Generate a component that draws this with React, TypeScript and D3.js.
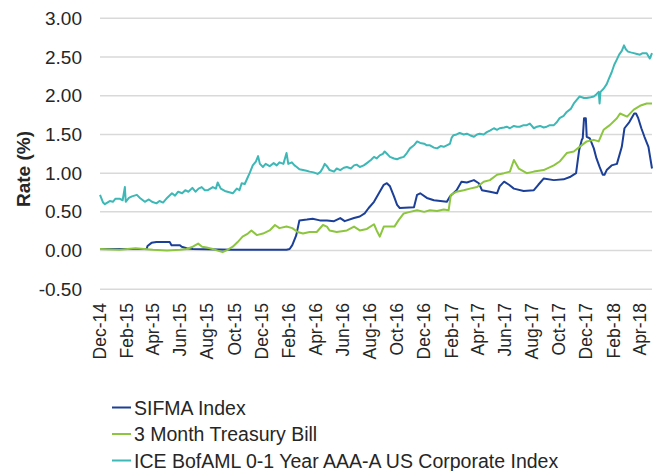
import React from "react";
import * as d3 from "d3";

const xTickLabels = ["Dec-14","Feb-15","Apr-15","Jun-15","Aug-15","Oct-15","Dec-15","Feb-16","Apr-16","Jun-16","Aug-16","Oct-16","Dec-16","Feb-17","Apr-17","Jun-17","Aug-17","Oct-17","Dec-17","Feb-18","Apr-18"];
const xTickDates = ["2014-12-01","2015-02-01","2015-04-01","2015-06-01","2015-08-01","2015-10-01","2015-12-01","2016-02-01","2016-04-01","2016-06-01","2016-08-01","2016-10-01","2016-12-01","2017-02-01","2017-04-01","2017-06-01","2017-08-01","2017-10-01","2017-12-01","2018-02-01","2018-04-01"];
const yTicks = [-0.5, 0, 0.5, 1, 1.5, 2, 2.5, 3];

const sifmaDates = ["2014-12-01","2015-03-16","2015-03-18","2015-03-27","2015-04-07","2015-05-07","2015-05-11","2015-05-30","2015-06-03","2015-06-14","2015-06-28","2015-09-26","2016-01-25","2016-02-01","2016-02-07","2016-02-16","2016-02-23","2016-03-11","2016-03-24","2016-04-09","2016-04-25","2016-05-11","2016-05-25","2016-06-04","2016-06-25","2016-07-08","2016-07-19","2016-07-28","2016-08-09","2016-08-20","2016-08-31","2016-09-07","2016-09-14","2016-09-23","2016-09-30","2016-10-06","2016-11-07","2016-11-14","2016-11-21","2016-12-06","2016-12-22","2017-01-20","2017-01-27","2017-02-11","2017-02-22","2017-03-06","2017-03-22","2017-04-02","2017-04-09","2017-04-27","2017-05-13","2017-05-19","2017-05-29","2017-06-09","2017-06-20","2017-07-12","2017-08-04","2017-08-14","2017-08-26","2017-09-18","2017-10-10","2017-10-24","2017-11-07","2017-11-14","2017-11-20","2017-11-22","2017-11-25","2017-11-29","2017-12-01","2017-12-08","2017-12-17","2017-12-23","2017-12-30","2018-01-06","2018-01-10","2018-01-15","2018-01-26","2018-02-07","2018-02-18","2018-02-24","2018-03-07","2018-03-18","2018-03-22","2018-03-27","2018-04-03","2018-04-10","2018-04-19","2018-04-27"];
const sifmaValues = [0.02,0.02,0.06,0.10,0.11,0.11,0.07,0.07,0.05,0.03,0.02,0.01,0.01,0.02,0.07,0.20,0.39,0.40,0.41,0.39,0.39,0.38,0.42,0.38,0.42,0.44,0.48,0.55,0.63,0.74,0.85,0.87,0.83,0.70,0.59,0.55,0.56,0.72,0.74,0.68,0.65,0.63,0.70,0.78,0.89,0.88,0.91,0.87,0.78,0.76,0.74,0.83,0.89,0.85,0.80,0.77,0.78,0.85,0.93,0.91,0.92,0.95,1.00,1.30,1.43,1.45,1.71,1.71,1.47,1.45,1.32,1.19,1.08,0.98,0.98,1.04,1.10,1.12,1.34,1.58,1.66,1.77,1.77,1.71,1.58,1.47,1.34,1.06];

const tbillDates = ["2014-12-01","2015-01-14","2015-02-19","2015-03-30","2015-05-01","2015-05-30","2015-06-14","2015-06-28","2015-07-10","2015-07-19","2015-07-29","2015-08-12","2015-08-23","2015-09-03","2015-09-14","2015-09-26","2015-10-07","2015-10-18","2015-10-30","2015-11-07","2015-11-19","2015-12-03","2015-12-18","2015-12-30","2016-01-09","2016-01-25","2016-02-07","2016-02-19","2016-03-02","2016-03-17","2016-04-02","2016-04-16","2016-04-25","2016-05-01","2016-05-17","2016-06-09","2016-06-25","2016-07-08","2016-07-24","2016-08-09","2016-08-15","2016-08-22","2016-08-31","2016-09-24","2016-10-03","2016-10-15","2016-10-29","2016-11-14","2016-11-30","2016-12-13","2016-12-29","2017-01-13","2017-01-24","2017-01-29","2017-02-11","2017-02-27","2017-03-13","2017-03-29","2017-04-13","2017-04-27","2017-05-13","2017-05-29","2017-06-11","2017-06-20","2017-07-01","2017-07-19","2017-08-04","2017-08-26","2017-09-18","2017-10-01","2017-10-17","2017-11-02","2017-11-15","2017-12-01","2017-12-17","2017-12-28","2018-01-08","2018-01-22","2018-02-07","2018-02-14","2018-03-02","2018-03-17","2018-03-31","2018-04-15","2018-04-27"];
const tbillValues = [0.02,0.01,0.03,0.01,0.00,0.01,0.02,0.05,0.09,0.05,0.04,0.02,0.00,-0.02,0.01,0.05,0.11,0.18,0.22,0.26,0.20,0.22,0.26,0.33,0.29,0.31,0.29,0.24,0.22,0.24,0.24,0.33,0.31,0.26,0.24,0.26,0.31,0.26,0.28,0.34,0.26,0.18,0.31,0.31,0.39,0.48,0.50,0.52,0.50,0.52,0.51,0.53,0.52,0.72,0.76,0.78,0.80,0.82,0.89,0.91,0.98,1.00,1.02,1.17,1.06,1.00,1.02,1.04,1.10,1.15,1.26,1.28,1.34,1.41,1.43,1.41,1.56,1.62,1.71,1.77,1.73,1.82,1.87,1.90,1.90];

const iceDates = ["2014-12-01","2014-12-08","2014-12-12","2014-12-23","2014-12-30","2015-01-05","2015-01-14","2015-01-21","2015-01-26","2015-01-28","2015-02-04","2015-02-11","2015-02-22","2015-03-01","2015-03-12","2015-03-21","2015-03-28","2015-04-07","2015-04-14","2015-04-22","2015-05-01","2015-05-12","2015-05-19","2015-05-26","2015-06-04","2015-06-11","2015-06-18","2015-06-27","2015-07-04","2015-07-11","2015-07-18","2015-07-25","2015-08-01","2015-08-12","2015-08-19","2015-08-23","2015-08-30","2015-09-08","2015-09-14","2015-09-26","2015-10-05","2015-10-11","2015-10-16","2015-10-23","2015-10-30","2015-11-03","2015-11-10","2015-11-17","2015-11-22","2015-11-26","2015-12-03","2015-12-09","2015-12-18","2015-12-27","2016-01-03","2016-01-09","2016-01-18","2016-01-25","2016-01-29","2016-02-06","2016-02-12","2016-02-17","2016-02-23","2016-03-02","2016-03-10","2016-03-17","2016-03-26","2016-04-04","2016-04-11","2016-04-16","2016-04-20","2016-04-25","2016-05-01","2016-05-11","2016-05-17","2016-05-25","2016-06-02","2016-06-09","2016-06-18","2016-06-25","2016-07-01","2016-07-08","2016-07-17","2016-07-24","2016-08-02","2016-08-09","2016-08-15","2016-08-22","2016-08-29","2016-09-02","2016-09-09","2016-09-14","2016-09-23","2016-09-30","2016-10-08","2016-10-15","2016-10-22","2016-10-29","2016-11-07","2016-11-14","2016-11-21","2016-11-30","2016-12-06","2016-12-13","2016-12-22","2016-12-29","2017-01-06","2017-01-13","2017-01-20","2017-01-27","2017-01-31","2017-02-04","2017-02-11","2017-02-18","2017-02-27","2017-03-06","2017-03-13","2017-03-22","2017-03-29","2017-04-04","2017-04-13","2017-04-20","2017-04-27","2017-05-06","2017-05-13","2017-05-19","2017-05-29","2017-06-04","2017-06-11","2017-06-20","2017-06-27","2017-07-03","2017-07-12","2017-07-19","2017-07-26","2017-08-04","2017-08-11","2017-08-18","2017-08-26","2017-09-02","2017-09-09","2017-09-18","2017-09-25","2017-10-01","2017-10-10","2017-10-17","2017-10-26","2017-11-02","2017-11-09","2017-11-15","2017-11-25","2017-12-01","2017-12-10","2017-12-17","2017-12-23","2017-12-28","2017-12-30","2018-01-01","2018-01-08","2018-01-15","2018-01-20","2018-01-26","2018-02-01","2018-02-07","2018-02-12","2018-02-18","2018-02-23","2018-02-27","2018-03-04","2018-03-10","2018-03-17","2018-03-24","2018-03-31","2018-04-06","2018-04-15","2018-04-22","2018-04-27"];
const iceValues = [0.72,0.62,0.60,0.64,0.63,0.67,0.67,0.65,0.82,0.63,0.68,0.70,0.72,0.68,0.63,0.66,0.63,0.61,0.64,0.62,0.68,0.74,0.71,0.76,0.74,0.78,0.76,0.81,0.76,0.80,0.82,0.78,0.78,0.82,0.80,0.88,0.80,0.77,0.76,0.74,0.80,0.78,0.87,0.86,0.95,1.00,1.10,1.15,1.22,1.12,1.08,1.12,1.09,1.13,1.10,1.14,1.12,1.26,1.12,1.14,1.10,1.08,1.05,1.04,1.03,1.02,1.01,0.99,1.02,1.07,1.12,1.09,1.04,1.02,1.06,1.04,1.07,1.08,1.06,1.10,1.11,1.08,1.10,1.13,1.17,1.21,1.19,1.23,1.25,1.28,1.24,1.21,1.19,1.18,1.20,1.21,1.26,1.32,1.36,1.41,1.39,1.38,1.36,1.36,1.33,1.32,1.35,1.34,1.36,1.38,1.46,1.49,1.50,1.52,1.50,1.51,1.49,1.47,1.50,1.51,1.50,1.53,1.55,1.58,1.56,1.58,1.59,1.60,1.58,1.61,1.60,1.60,1.62,1.62,1.64,1.58,1.60,1.61,1.59,1.60,1.62,1.62,1.66,1.71,1.74,1.79,1.83,1.90,1.95,1.99,1.97,1.97,1.98,1.99,2.02,2.05,1.90,2.05,2.09,2.15,2.22,2.30,2.40,2.47,2.53,2.58,2.65,2.60,2.57,2.56,2.55,2.54,2.53,2.55,2.55,2.48,2.55];

const seriesNames = ["SIFMA Index", "3 Month Treasury Bill", "ICE BofAML 0-1 Year AAA-A US Corporate Index"];
const seriesColors = ["#1c3f98", "#8cc63f", "#3db8b6"];

const parse = d3.timeParse("%Y-%m-%d");

export default function App() {
  const x = d3.scaleTime()
    .domain([parse("2014-12-01")!, parse("2018-04-27")!])
    .range([100, 652]);
  const y = d3.scaleLinear().domain([-0.5, 3]).range([289.3, 18.3]);

  const series = [
    { dates: sifmaDates, values: sifmaValues },
    { dates: tbillDates, values: tbillValues },
    { dates: iceDates, values: iceValues },
  ];

  const line = d3.line<[Date, number]>()
    .x((d) => x(d[0]))
    .y((d) => y(d[1]));

  const font = "Liberation Sans, Arial, sans-serif";
  const textColor = "#262626";

  return (
    <svg width={657} height={471} style={{ position: "absolute", left: 0, top: 0, background: "#fff" }}>
      {yTicks.map((t) => (
        <g key={t}>
          <line x1={100} x2={652} y1={y(t)} y2={y(t)} stroke="#d9d9d9" strokeWidth={1.5} />
          <text x={82} y={y(t)} textAnchor="end" dominantBaseline="central" fontFamily={font} fontSize={19} fill={textColor}>
            {t.toFixed(2)}
          </text>
        </g>
      ))}
      <text
        transform={`translate(23,169) rotate(-90)`}
        textAnchor="middle"
        dominantBaseline="central"
        fontFamily={font}
        fontSize={19}
        fontWeight="bold"
        fill={textColor}
      >
        Rate (%)
      </text>
      {xTickLabels.map((lab, i) => (
        <text
          key={lab}
          transform={`translate(${x(parse(xTickDates[i])!)},303) rotate(-90)`}
          y={5.5}
          textAnchor="end"
          fontFamily={font}
          fontSize={17.5}
          fill={textColor}
        >
          {lab}
        </text>
      ))}
      {series.map((s, i) => {
        const pts: [Date, number][] = s.dates.map((d, j) => [parse(d)!, s.values[j]]);
        return (
          <path key={i} d={line(pts) || ""} fill="none" stroke={seriesColors[i]} strokeWidth={2} strokeLinejoin="round" />
        );
      })}
      {seriesNames.map((n, i) => {
        const cy = 407.5 + i * 26.5;
        return (
          <g key={n}>
            <line x1={112} x2={131} y1={cy} y2={cy} stroke={seriesColors[i]} strokeWidth={2} />
            <text x={134} y={cy} dominantBaseline="central" fontFamily={font} fontSize={19.5} fill={textColor}>
              {n}
            </text>
          </g>
        );
      })}
    </svg>
  );
}
